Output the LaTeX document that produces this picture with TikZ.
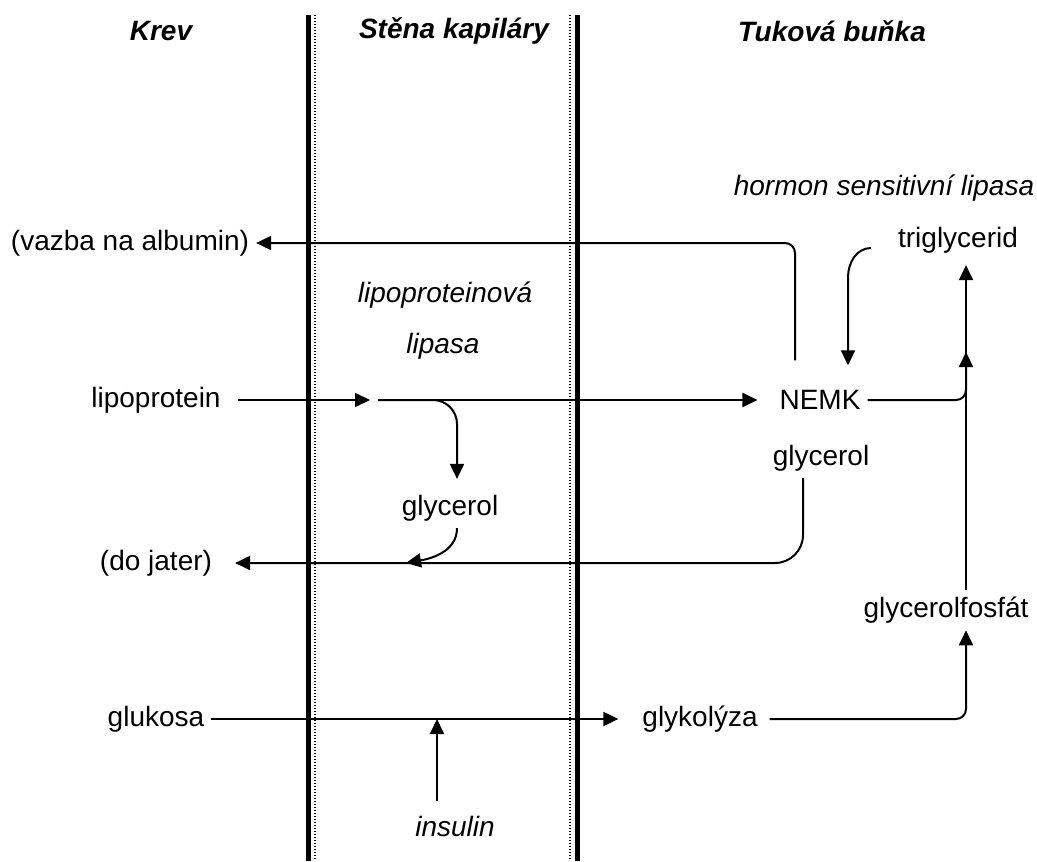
\documentclass[tikz,border=0pt]{standalone}
\usepackage{fontspec}
\setmainfont{Liberation Sans}
\usetikzlibrary{arrows.meta}

\begin{document}
\begin{tikzpicture}[
  x=0.5pt, y=0.5pt,
  every node/.style={font=\fontsize{14}{17}\selectfont},
  enzyme/.style={font=\fontsize{14}{17}\selectfont\itshape},
  heading/.style={font=\fontsize{14}{17}\selectfont\bfseries\itshape},
  link/.style={-{Triangle[length=7.5pt,width=7pt]}, line width=1pt},
  wall/.style={line width=2.5pt},
  membrane/.style={line width=0.7pt, dash pattern=on 0.6pt off 0.9pt}
]
\useasboundingbox (0,0) rectangle (1037,-861);
\draw[wall] (308,-15) -- (308,-861);
\draw[membrane] (315,-15) -- (315,-861);
\draw[membrane] (570,-15) -- (570,-861);
\draw[wall] (577,-15) -- (577,-861);

\node[heading] (krev) at (161,-31) {Krev};
\node[heading] (stena) at (454,-31) {Stěna kapiláry};
\node[heading] (tukova) at (832,-31) {Tuková buňka};
\node[enzyme] (hsl) at (884,-188) {hormon sensitivní lipasa};
\node (trig) at (958,-240) {triglycerid};
\node (albumin) at (130,-243) {(vazba na albumin)};
\node[enzyme] (lplA) at (445,-295) {lipoproteinová};
\node[enzyme] (lplB) at (443,-346) {lipasa};
\node (lipo) at (156,-400) {lipoprotein};
\node (nemk) at (820,-400) {NEMK};
\node (glycR) at (821,-458) {glycerol};
\node (glycM) at (450,-508) {glycerol};
\node (jater) at (156,-563) {(do jater)};
\node (gfos) at (946,-610) {glycerolfosfát};
\node (gluk) at (156,-719) {glukosa};
\node (glyk) at (700,-719) {glykolýza};
\node[enzyme] (insulin) at (455,-826) {insulin};

\coordinate (split) at (374,-400);
\coordinate (mix) at (406,-563);
\coordinate (ins) at (437,-719);
\coordinate (join) at (966,-352);

\draw[link, rounded corners=5pt] ([shift={(-25,23)}]nemk.north) |- (albumin);
\draw[link] ([shift={(-20,-8)}]trig.west) to[out=180,in=90] ([shift={(28,106)}]nemk.north) -- ([shift={(28,18)}]nemk.north);
\draw[link, shorten <=5pt, shorten >=2pt] (lipo) -- (split);
\draw[link, shorten <=2pt, shorten >=7.5pt] (split) -- (nemk);
\draw[link, rounded corners=12pt, shorten <=2pt, shorten >=4.5pt] (split) -| ([xshift=3.5pt]glycM.north);
\draw[link] ([xshift=3.5pt]glycM.south) to[out=-90,in=10] (mix);
\draw[link, rounded corners=14pt, shorten >=8pt] ([xshift=-9pt]glycR.south) |- (jater);
\draw[link, shorten >=8.5pt] (gluk) -- (glyk);
\draw[link, shorten <=4pt] ([xshift=-9pt]insulin.north) -- (ins);
\draw[link, rounded corners=5pt, shorten <=2.5pt] (glyk) -| ([xshift=10pt]gfos.south);
\draw[link, shorten >=2.5pt] ([xshift=10pt]gfos.north) -- ([xshift=4pt]trig.south);
\draw[link, rounded corners=5pt] (nemk) -| (join);
\end{tikzpicture}
\end{document}
